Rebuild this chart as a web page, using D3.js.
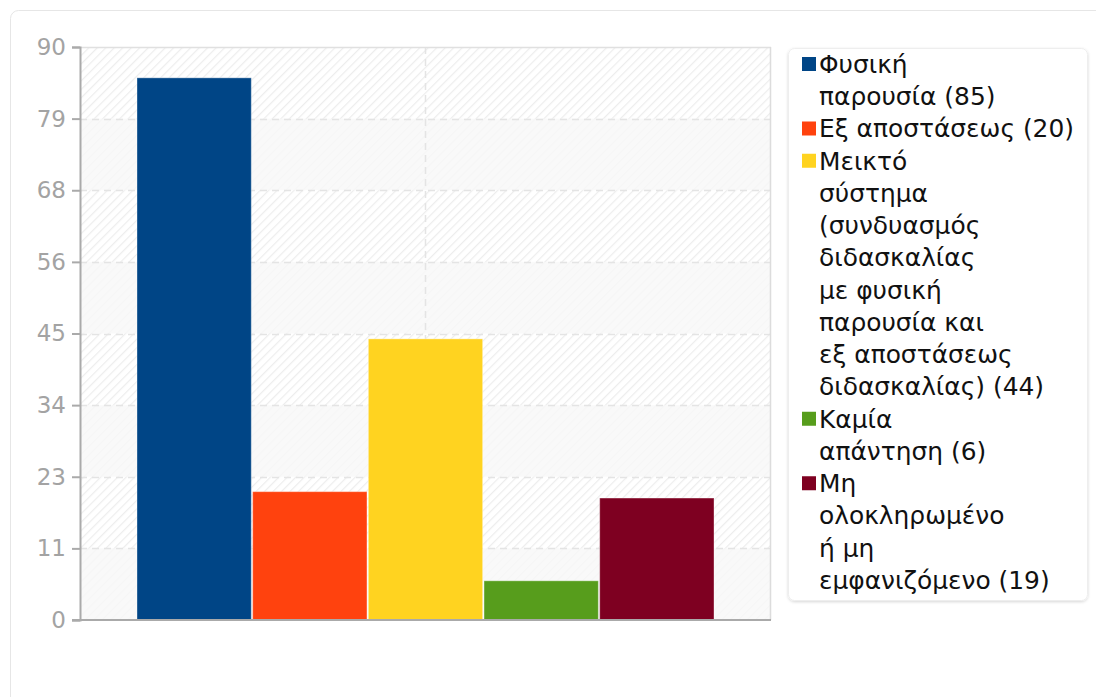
<!DOCTYPE html>
<html>
<head>
<meta charset="utf-8">
<script src="https://cdn.jsdelivr.net/npm/d3@7"></script>
<style>
  html, body { margin: 0; padding: 0; background: #fff; }
  svg { display: block; font-family: "DejaVu Sans", sans-serif; }
</style>
</head>
<body>
<svg id="chart" width="1096" height="697"></svg>
<script>
const categories = ["Φυσική παρουσία", "Εξ αποστάσεως", "Μεικτό σύστημα (συνδυασμός διδασκαλίας με φυσική παρουσία και εξ αποστάσεως διδασκαλίας)", "Καμία απάντηση", "Μη ολοκληρωμένο ή μη εμφανιζόμενο"];
const values = [85, 20, 44, 6, 19];
const colors = ["#004586", "#ff420e", "#ffd320", "#579d1c", "#7e0021"];
const legendLines = [
  ["Φυσική", "παρουσία (85)"],
  ["Εξ αποστάσεως (20)"],
  ["Μεικτό", "σύστημα", "(συνδυασμός", "διδασκαλίας", "με φυσική", "παρουσία και", "εξ αποστάσεως", "διδασκαλίας) (44)"],
  ["Καμία", "απάντηση (6)"],
  ["Μη", "ολοκληρωμένο", "ή μη", "εμφανιζόμενο (19)"]
];
const yMax = 90;
const tickCount = 8;
const tickValues = d3.range(tickCount + 1).map(i => i * yMax / tickCount);

const svg = d3.select("#chart");
const defs = svg.append("defs");
const pat = defs.append("pattern").attr("id", "hatch").attr("patternUnits", "userSpaceOnUse")
  .attr("width", 6).attr("height", 6).attr("patternTransform", "rotate(45)");
pat.append("rect").attr("width", 6).attr("height", 6).attr("fill", "#ffffff");
pat.append("line").attr("x1", 0).attr("y1", 0).attr("x2", 0).attr("y2", 6)
  .attr("stroke", "#ededed").attr("stroke-width", 2.4);
const sh = defs.append("filter").attr("id", "shadow").attr("x", "-10%").attr("y", "-10%").attr("width", "120%").attr("height", "120%");
sh.append("feDropShadow").attr("dx", 0).attr("dy", 1).attr("stdDeviation", 1.5).attr("flood-color", "#000").attr("flood-opacity", 0.16);

// card
svg.append("rect").attr("x", 10.5).attr("y", 10.5).attr("width", 1100).attr("height", 720)
  .attr("rx", 8).attr("fill", "#fff").attr("stroke", "#e6e6e6");

const plot = { left: 80, right: 771, top: 47, bottom: 620 };
const y = d3.scaleLinear().domain([0, yMax]).range([plot.bottom, plot.top]);
const x = d3.scaleBand().domain(categories).range([plot.left + 57, plot.right - 57]).paddingInner(0.012);

const g = svg.append("g");
// background hatch
g.append("rect").attr("x", plot.left).attr("y", plot.top)
  .attr("width", plot.right - plot.left).attr("height", plot.bottom - plot.top)
  .attr("fill", "url(#hatch)");
// alternating bands
g.selectAll("rect.band").data(d3.range(tickCount).filter(i => i % 2 === 0)).enter().append("rect")
  .attr("class", "band")
  .attr("x", plot.left).attr("width", plot.right - plot.left)
  .attr("y", i => y(tickValues[i + 1]))
  .attr("height", i => y(tickValues[i]) - y(tickValues[i + 1]))
  .attr("fill", "#f7f7f7").attr("opacity", 0.8);

// grid
g.selectAll("line.hgrid").data(tickValues.slice(1, -1)).enter().append("line")
  .attr("x1", plot.left).attr("x2", plot.right)
  .attr("y1", d => Math.round(y(d)) + 0.5).attr("y2", d => Math.round(y(d)) + 0.5)
  .attr("stroke", "#e4e4e4").attr("stroke-width", 1.5).attr("stroke-dasharray", "7,5");
g.append("line").attr("x1", (plot.left + plot.right) / 2).attr("x2", (plot.left + plot.right) / 2)
  .attr("y1", plot.top).attr("y2", plot.bottom)
  .attr("stroke", "#e4e4e4").attr("stroke-width", 1.5).attr("stroke-dasharray", "7,5");
// top and right border
g.append("line").attr("x1", plot.left).attr("x2", plot.right).attr("y1", plot.top + 0.5).attr("y2", plot.top + 0.5)
  .attr("stroke", "#e0e0e0").attr("stroke-width", 1.5);
g.append("line").attr("x1", plot.right - 0.5).attr("x2", plot.right - 0.5).attr("y1", plot.top).attr("y2", plot.bottom)
  .attr("stroke", "#dcdcdc").attr("stroke-width", 1.5);

// bars
g.selectAll("rect.bar").data(values).enter().append("rect")
  .attr("class", "bar")
  .attr("x", (d, i) => x(categories[i]))
  .attr("width", x.bandwidth())
  .attr("y", d => y(d) - 1)
  .attr("height", d => y(0) - y(d) + 1)
  .attr("fill", (d, i) => colors[i])
  .attr("stroke", "rgba(255,255,255,0.35)").attr("stroke-width", 1);

// y axis
const yAxis = d3.axisLeft(y).tickValues(tickValues).tickSize(8).tickPadding(6)
  .tickFormat(d => Math.round(d));
const ax = svg.append("g").attr("transform", `translate(${plot.left},0)`).call(yAxis);
ax.select(".domain").attr("stroke", "#aaaaaa").attr("stroke-width", 2);
ax.selectAll(".tick line").attr("stroke", "#aaaaaa").attr("stroke-width", 2);
ax.selectAll(".tick text").attr("fill", "#a3a3a3").attr("font-size", 23)
  .attr("font-family", "DejaVu Sans, sans-serif");
// x baseline
svg.append("line").attr("x1", plot.left - 8).attr("x2", plot.right).attr("y1", plot.bottom).attr("y2", plot.bottom)
  .attr("stroke", "#aaaaaa").attr("stroke-width", 2);

// legend
const lg = svg.append("g");
lg.append("rect").attr("x", 788.5).attr("y", 48.5).attr("width", 299).attr("height", 552)
  .attr("rx", 6).attr("fill", "#fff").attr("stroke", "#eeeeee").attr("filter", "url(#shadow)");
const lineH = 32.25;
let lineIdx = 0;
legendLines.forEach((lines, i) => {
  const y0 = 64 + lineIdx * lineH;
  lg.append("rect").attr("x", 802).attr("y", y0 - 7).attr("width", 14).attr("height", 14).attr("fill", colors[i]);
  lines.forEach((t, j) => {
    lg.append("text").attr("x", 819).attr("y", y0 + j * lineH)
      .attr("dy", "0.36em").attr("font-size", 24.9).attr("fill", "#111").text(t);
  });
  lineIdx += lines.length;
});
</script>
</body>
</html>
